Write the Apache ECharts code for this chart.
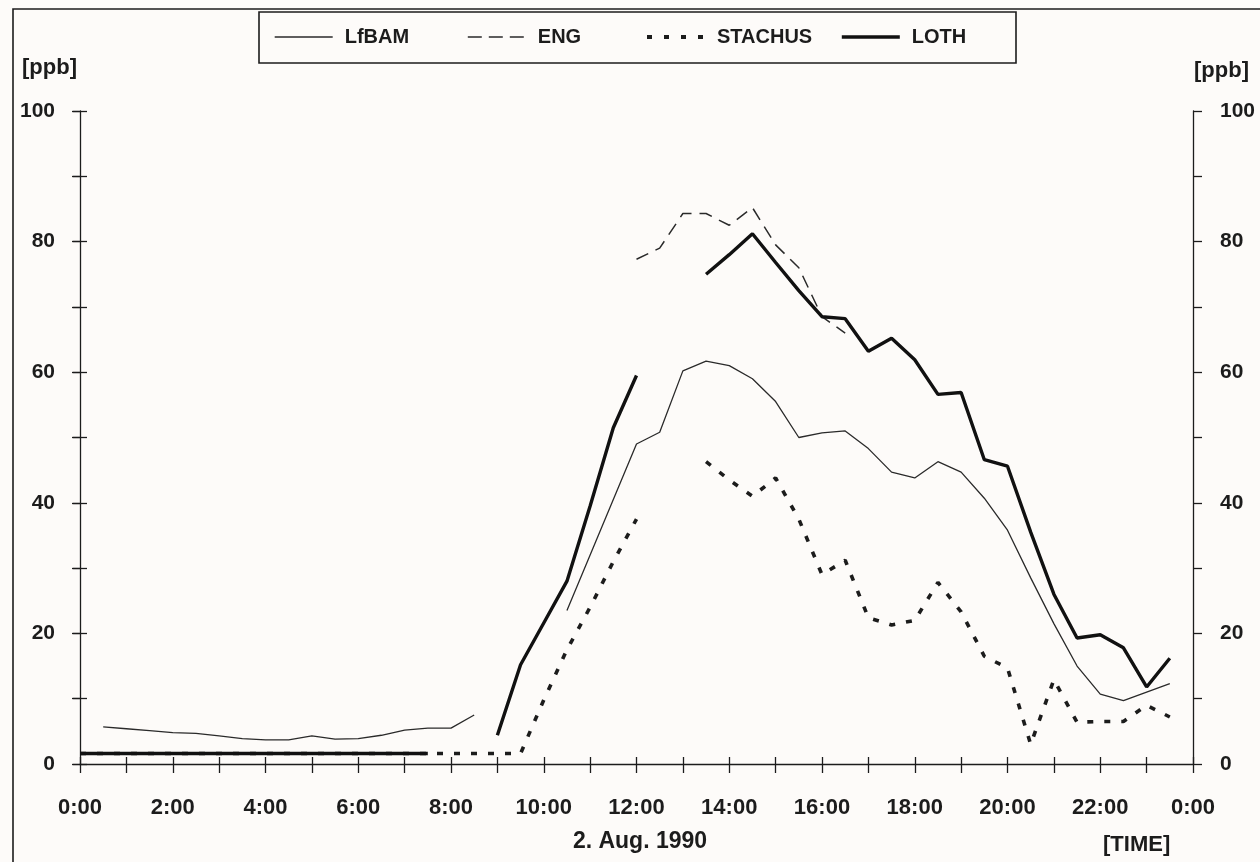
<!DOCTYPE html>
<html><head><meta charset="utf-8">
<script src="https://cdn.jsdelivr.net/npm/echarts@6/dist/echarts.min.js"></script>
<style>html,body{margin:0;padding:0;background:#fdfbf9}#c{width:1260px;height:862px}</style>
</head><body><div id="c"></div>
<script>
// half-hourly time grid (hours of 2 Aug 1990)
const times = [0,0.5,1,1.5,2,2.5,3,3.5,4,4.5,5,5.5,6,6.5,7,7.5,8,8.5,9,9.5,10,10.5,11,11.5,
               12,12.5,13,13.5,14,14.5,15,15.5,16,16.5,17,17.5,18,18.5,19,19.5,20,20.5,21,21.5,22,22.5,23,23.5];
const seriesNames = ['LfBAM','ENG','STACHUS','LOTH'];
const lfbam = [null,5.7,5.4,5.1,4.8,4.7,4.3,3.9,3.7,3.7,4.3,3.8,3.9,4.4,5.2,5.5,5.5,7.5,null,null,null,23.5,32,40.5,
               49,50.8,60.2,61.7,61,59,55.5,50,50.7,51,48.3,44.7,43.8,46.3,44.7,40.7,35.8,28.5,21.5,15,10.7,9.7,11,12.3];
const eng = [null,null,null,null,null,null,null,null,null,null,null,null,null,null,null,null,null,null,null,null,null,null,null,null,
             77.3,79,84.3,84.3,82.5,85.2,79.5,76,68.5,66,null,null,null,null,null,null,null,null,null,null,null,null,null,null];
const stachus = [1.6,1.6,1.6,1.6,1.6,1.6,1.6,1.6,1.6,1.6,1.6,1.6,1.6,1.6,1.6,1.6,1.6,1.6,1.6,1.6,9.8,17.5,24,31,
                 37.5,null,null,46.3,43.5,41,43.8,37.5,29,31.2,22.4,21.3,22,27.8,23.3,16.5,14.7,3,12.9,6.4,6.5,6.5,9,7.2];
const loth = [1.6,1.6,1.6,1.6,1.6,1.6,1.6,1.6,1.6,1.6,1.6,1.6,1.6,1.6,1.6,1.6,null,null,4.4,15.2,21.6,28,39.5,51.5,
              59.5,null,null,75,78,81.2,76.8,72.5,68.5,68.2,63.2,65.2,61.9,56.6,56.9,46.6,45.6,35.5,26,19.3,19.8,17.8,11.8,16.2];
const xTickLabels = ['0:00','2:00','4:00','6:00','8:00','10:00','12:00','14:00','16:00','18:00','20:00','22:00','0:00'];
const yTickLabels = ['0','20','40','60','80','100'];
const unitLabel = '[ppb]';
const dateLabel = '2. Aug. 1990';
const timeLabel = '[TIME]';

const FONT = '"Liberation Sans", Arial, Helvetica, sans-serif';
const INK = '#1c1c1c';
const chart = echarts.init(document.getElementById('c'), null, {renderer: 'canvas'});

const pair = arr => times.map((t, i) => [t, arr[i]]);
const xFmt = v => (v % 2 === 0 ? xTickLabels[v / 2] : '');
const yFmt = v => (v % 20 === 0 ? yTickLabels[v / 20] : '');
const ylbl = {fontFamily: FONT, fontWeight: 'bold', fontSize: 21, color: INK};
const xlbl = {fontFamily: FONT, fontWeight: 'bold', fontSize: 22, color: INK};

const baseX = {type: 'value', min: 0, max: 24, interval: 1, position: 'bottom', splitLine: {show: false}};
const baseY = {type: 'value', min: 0, max: 100, interval: 10, splitLine: {show: false}};

const styles = {
  LfBAM:   {color: '#2a2a2a', width: 1.3, type: 'solid'},
  ENG:     {color: '#2a2a2a', width: 1.5, type: [13, 8]},
  STACHUS: {color: INK, width: 3.6, type: [6, 11], cap: 'butt'},
  LOTH:    {color: '#111', width: 3.4, type: 'solid'}
};
const legendStyles = {
  LfBAM:   {color: '#2a2a2a', width: 1.4, type: 'solid'},
  ENG:     {color: '#2a2a2a', width: 1.6, type: [14, 7]},
  STACHUS: {color: INK, width: 4, type: [5, 12], cap: 'butt'},
  LOTH:    {color: '#111', width: 3.6, type: 'solid'}
};
const legendLeft = [274, 467, 645, 840];

const legendCommon = {
  orient: 'horizontal', padding: 0, itemWidth: 58, itemHeight: 20, top: 27, selectedMode: false,
  itemStyle: {opacity: 0, borderWidth: 0},
  textStyle: {fontFamily: FONT, fontWeight: 'bold', fontSize: 20, color: INK, padding: [0, 0, 0, 7]}
};

chart.setOption({
  backgroundColor: '#fdfbf9',
  animation: false,
  grid: {left: 80, right: 67, top: 111, bottom: 98, containLabel: false},
  legend: seriesNames.map((n, i) => Object.assign({}, legendCommon, {
    data: [n], left: legendLeft[i], lineStyle: legendStyles[n]
  })),
  xAxis: [
    Object.assign({}, baseX, {
      axisLine: {show: true, onZero: false, lineStyle: {color: INK, width: 1.3}},
      axisTick: {show: true, inside: false, length: 9, lineStyle: {color: INK, width: 1.3}},
      axisLabel: Object.assign({formatter: xFmt, margin: 33, showMinLabel: true, showMaxLabel: true, hideOverlap: false}, xlbl)
    }),
    Object.assign({}, baseX, {
      axisLine: {show: false},
      axisTick: {show: true, inside: true, length: 7, lineStyle: {color: INK, width: 1.3}},
      axisLabel: {show: false}
    })
  ],
  yAxis: [
    Object.assign({}, baseY, {
      position: 'left',
      axisLine: {show: true, onZero: false, lineStyle: {color: INK, width: 1.3}},
      axisTick: {show: true, inside: false, length: 7, lineStyle: {color: INK, width: 1.3}},
      axisLabel: Object.assign({formatter: yFmt, margin: 25, showMinLabel: true, showMaxLabel: true}, ylbl)
    }),
    Object.assign({}, baseY, {
      position: 'left',
      axisLine: {show: false},
      axisTick: {show: true, inside: true, length: 7, lineStyle: {color: INK, width: 1.3}},
      axisLabel: {show: false}
    }),
    Object.assign({}, baseY, {
      position: 'right',
      axisLine: {show: true, onZero: false, lineStyle: {color: INK, width: 1.3}},
      axisTick: {show: true, inside: false, length: 9, lineStyle: {color: INK, width: 1.3}},
      axisLabel: Object.assign({formatter: yFmt, margin: 27, showMinLabel: true, showMaxLabel: true}, ylbl)
    }),
    Object.assign({}, baseY, {
      position: 'right',
      axisLine: {show: false},
      axisTick: {show: true, inside: true, length: 8, lineStyle: {color: INK, width: 1.3}},
      axisLabel: {show: false}
    })
  ],
  series: [
    {name: 'STACHUS', type: 'line', symbol: 'none', data: pair(stachus), z: 2,
     lineStyle: styles.STACHUS, itemStyle: {color: INK}},
    {name: 'LfBAM', type: 'line', symbol: 'none', data: pair(lfbam), z: 3,
     lineStyle: styles.LfBAM, itemStyle: {color: INK}},
    {name: 'ENG', type: 'line', symbol: 'none', data: pair(eng), z: 3,
     lineStyle: styles.ENG, itemStyle: {color: INK}},
    {name: 'LOTH', type: 'line', symbol: 'none', data: pair(loth), z: 4,
     lineStyle: styles.LOTH, itemStyle: {color: INK}}
  ],
  graphic: [
    {type: 'rect', silent: true, shape: {x: 13, y: 9, width: 1300, height: 900},
     style: {fill: 'none', stroke: INK, lineWidth: 1.6}},
    {type: 'rect', silent: true, shape: {x: 259, y: 12, width: 757, height: 51},
     style: {fill: 'none', stroke: INK, lineWidth: 1.6}},
    {type: 'text', silent: true, x: 22, y: 68,
     style: {text: unitLabel, font: 'bold 22px ' + FONT, fill: INK, align: 'left', verticalAlign: 'middle', textAlign: 'left', textVerticalAlign: 'middle'}},
    {type: 'text', silent: true, x: 1194, y: 71,
     style: {text: unitLabel, font: 'bold 22px ' + FONT, fill: INK, align: 'left', verticalAlign: 'middle', textAlign: 'left', textVerticalAlign: 'middle'}},
    {type: 'text', silent: true, x: 640, y: 842,
     style: {text: dateLabel, font: 'bold 23px ' + FONT, fill: INK, align: 'center', verticalAlign: 'middle', textAlign: 'center', textVerticalAlign: 'middle'}},
    {type: 'text', silent: true, x: 1103, y: 845,
     style: {text: timeLabel, font: 'bold 22px ' + FONT, fill: INK, align: 'left', verticalAlign: 'middle', textAlign: 'left', textVerticalAlign: 'middle'}}
  ]
});
</script></body></html>
